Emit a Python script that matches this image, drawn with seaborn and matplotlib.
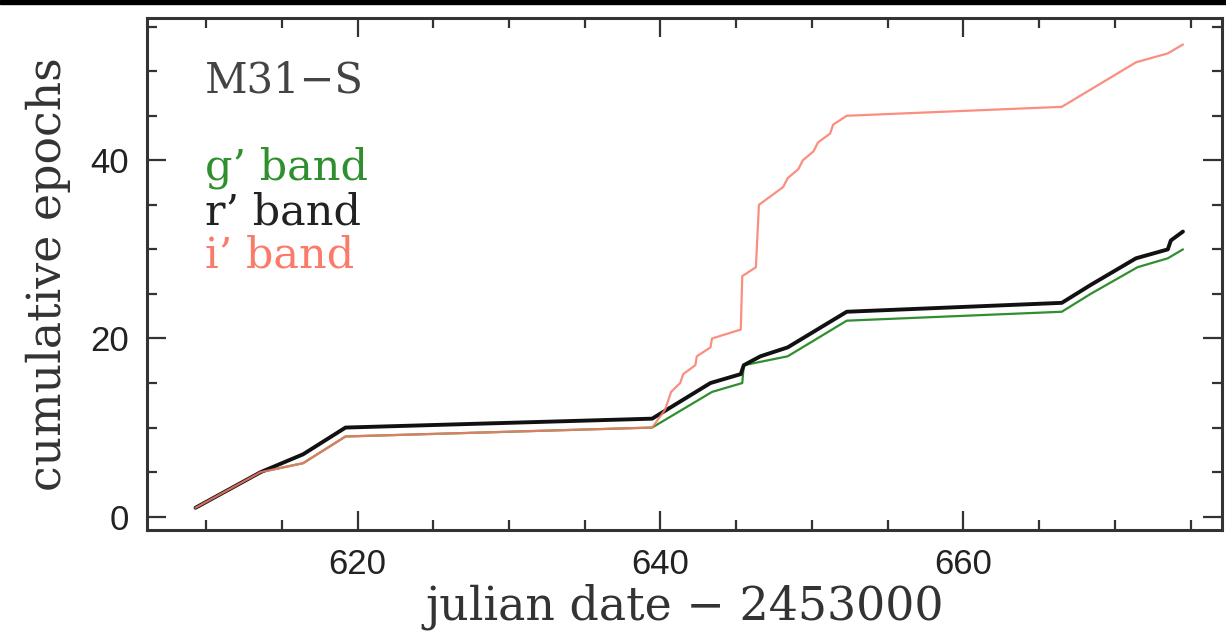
import numpy as np
import pandas as pd
import matplotlib
matplotlib.use("Agg")
import matplotlib.pyplot as plt
import seaborn as sns
from matplotlib.ticker import MultipleLocator
from matplotlib.patches import Rectangle

# ---- data ----
g_jd = [609.3, 613.6, 616.4, 619.2, 639.45, 643.4, 645.4, 645.5, 648.4, 652.3,
        666.5, 668.4, 671.5, 673.5, 674.5]
g_n = [1, 5, 6, 9, 10, 14, 15, 17, 18, 22, 23, 25, 28, 29, 30]

r_jd = [609.3, 613.6, 616.4, 619.2, 639.45, 643.3, 645.3, 645.5, 646.6, 648.4,
        652.3, 666.5, 668.4, 671.4, 673.5, 673.7, 674.5]
r_n = [1, 5, 7, 10, 11, 15, 16, 17, 18, 19, 23, 24, 26, 29, 30, 31, 32]

i_jd = [609.3, 613.6, 616.4, 619.2, 639.45, 640.3, 640.7, 641.3, 641.5, 642.3,
        642.4, 643.3, 643.4, 645.3, 645.4, 646.3, 646.5, 648.1, 648.4, 649.1,
        649.4, 650.1, 650.4, 651.2, 651.4, 652.3, 666.5, 671.4, 673.5, 674.5]
i_n = [1, 5, 6, 9, 10, 12, 14, 15, 16, 17, 18, 19, 20, 21, 27, 28, 35, 37, 38,
       39, 40, 41, 42, 43, 44, 45, 46, 51, 52, 53]

x_ticks = [620, 640, 660]
x_tick_labels = ["620", "640", "660"]
y_ticks = [0, 20, 40]
y_tick_labels = ["0", "20", "40"]

bands = ["g\u2019 band", "r\u2019 band", "i\u2019 band"]
colors = {"g\u2019 band": "#2f8f2f", "r\u2019 band": "#111111", "i\u2019 band": "#fa7b6a"}
widths = {"g\u2019 band": 1.6, "r\u2019 band": 2.8, "i\u2019 band": 1.6}

df = pd.concat([
    pd.DataFrame({"jd": g_jd, "n": g_n, "band": bands[0]}),
    pd.DataFrame({"jd": r_jd, "n": r_n, "band": bands[1]}),
    pd.DataFrame({"jd": i_jd, "n": i_n, "band": bands[2]}),
], ignore_index=True)

sns.set_style("ticks")
plt.rcParams["font.family"] = ["DejaVu Serif", "DejaVu Sans"]

fig = plt.figure(figsize=(12.26, 6.34), dpi=100)
ax = fig.add_axes([0.12, 0.164, 0.877, 0.808])

for b in bands:
    sub = df[df["band"] == b]
    sns.lineplot(data=sub, x="jd", y="n", ax=ax, color=colors[b], lw=widths[b],
                 sort=False, estimator=None, legend=False,
                 alpha=0.85 if b == bands[2] else 1.0)

ax.set_xlim(606.1, 677.1)
ax.set_ylim(-1.5, 56)
ax.set_xticks(x_ticks)
ax.set_xticklabels(x_tick_labels, fontfamily="Liberation Sans", fontsize=25,
                   color="#222222")
ax.set_yticks(y_ticks)
ax.set_yticklabels(y_tick_labels, fontfamily="Liberation Sans", fontsize=25,
                   color="#222222")
ax.xaxis.set_minor_locator(MultipleLocator(5))
ax.yaxis.set_minor_locator(MultipleLocator(5))

ax.tick_params(which="both", direction="in", top=True, right=True,
               color="#333333", width=1.6)
ax.tick_params(which="major", length=14, pad=13)
ax.tick_params(which="minor", length=7)

for sp in ax.spines.values():
    sp.set_linewidth(2.2)
    sp.set_color("#333333")

ax.set_xlabel("julian date \u2212 2453000", fontsize=33, color="#333333",
              labelpad=2)
ax.set_ylabel("cumulative epochs", fontsize=33, color="#333333", labelpad=14)

ax.text(0.054, 0.855, "M31\u2212S", transform=ax.transAxes, fontsize=30,
        color="#444444", va="baseline")
ty = [0.684, 0.596, 0.512]
for b, y in zip(bands, ty):
    ax.text(0.054, y, b, transform=ax.transAxes, fontsize=31,
            color=colors[b] if b != bands[1] else "#222222", va="baseline")

fig.patches.append(Rectangle((0, 0.993), 1, 0.007, transform=fig.transFigure,
                             color="black", zorder=10))

fig.savefig("out.png", dpi=100, facecolor="white")
